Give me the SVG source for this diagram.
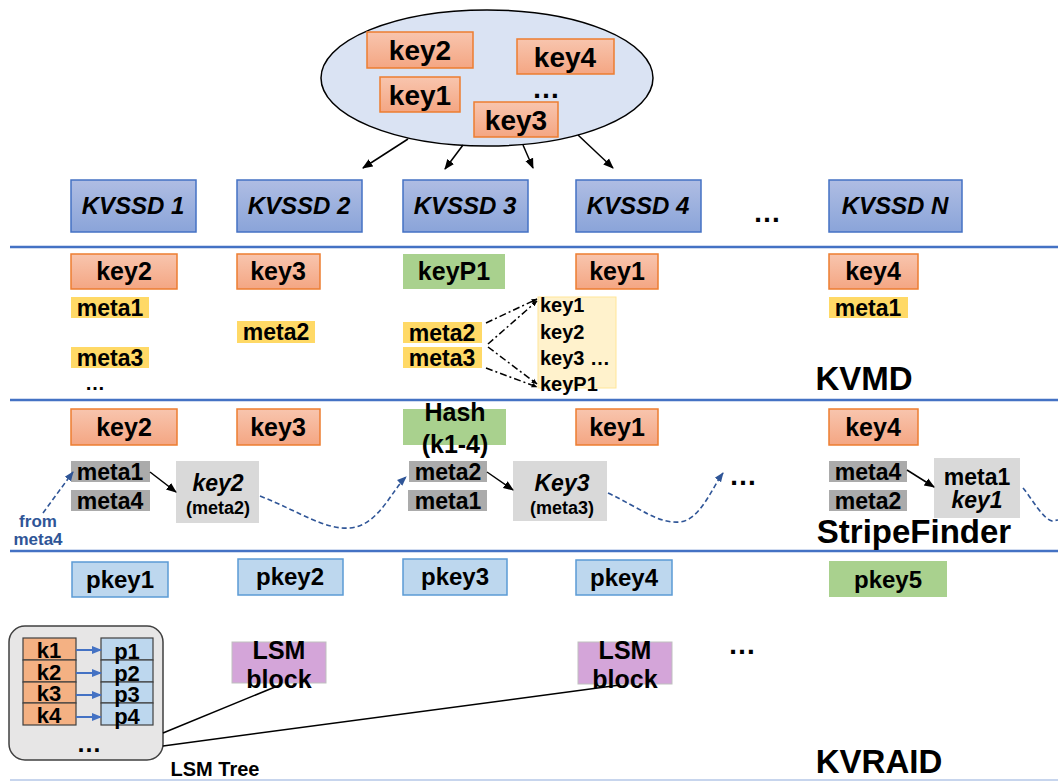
<svg xmlns="http://www.w3.org/2000/svg" width="1058" height="782" viewBox="0 0 1058 782">
  <defs>
    <linearGradient id="gKey" x1="0" y1="0" x2="0" y2="1">
      <stop offset="0" stop-color="#F8C5AE"/>
      <stop offset="1" stop-color="#F4A683"/>
    </linearGradient>
    <linearGradient id="gSsd" x1="0" y1="0" x2="0" y2="1">
      <stop offset="0" stop-color="#AFBDE3"/>
      <stop offset="1" stop-color="#8AA4D9"/>
    </linearGradient>
    <marker id="ah" viewBox="0 0 10 10" refX="9" refY="5" markerWidth="7" markerHeight="7" orient="auto">
      <path d="M0,1 L10,5 L0,9 z" fill="#000"/>
    </marker>
    <marker id="ahs" viewBox="0 0 10 10" refX="9" refY="5" markerWidth="4" markerHeight="4" orient="auto">
      <path d="M0,1 L10,5 L0,9 z" fill="#000"/>
    </marker>
    <marker id="ahb" viewBox="0 0 10 10" refX="9" refY="5" markerWidth="6" markerHeight="6" orient="auto">
      <path d="M0,1 L10,5 L0,9 z" fill="#2F5597"/>
    </marker>
    <marker id="ahl" viewBox="0 0 10 10" refX="9" refY="5" markerWidth="5" markerHeight="5" orient="auto">
      <path d="M0,1 L10,5 L0,9 z" fill="#4472C4"/>
    </marker>
  </defs>
  <style>
    text { font-family: "Liberation Sans", Arial, sans-serif; font-weight: bold; fill: #000; text-anchor: middle; }
    .key { fill: url(#gKey); stroke: #ED7D31; stroke-width: 1.5; }
    .green { fill: #A9D18E; stroke: none; }
    .ssd { fill: url(#gSsd); stroke: #4472C4; stroke-width: 1.5; }
    .meta { fill: #FFD966; stroke: none; }
    .gmeta { fill: #ABABAB; stroke: none; }
    .lbox { fill: #D9D9D9; stroke: none; }
    .pkey { fill: #BDD7EE; stroke: #5B9BD5; stroke-width: 1.5; }
    .lsm { fill: #D4A5D9; stroke: #BFBFBF; stroke-width: 1; }
    .sep { stroke: #4472C4; stroke-width: 2.5; }
    .t28 { font-size: 28px; }
    .t25 { font-size: 25px; }
    .t24 { font-size: 24px; }
    .t23 { font-size: 23px; }
    .t22 { font-size: 22px; }
    .t20 { font-size: 20px; }
    .ssdt { font-size: 24px; font-style: italic; }
    .big { font-size: 33px; }
    .conn { stroke: #000; stroke-width: 1.5; fill: none; }
    .dash { stroke: #2F5597; stroke-width: 1.6; fill: none; stroke-dasharray: 5 3; }
    .dd { stroke: #000; stroke-width: 1.5; fill: none; stroke-dasharray: 7 3 2 3; }
  </style>

  <!-- layer separators -->
  <g id="separators">
    <line class="sep" x1="10" y1="247" x2="1058" y2="247"/>
    <line class="sep" x1="10" y1="400" x2="1058" y2="400" stroke="#6B8FD0"/>
    <line class="sep" x1="10" y1="551" x2="1058" y2="551"/>
    <line x1="10" y1="780" x2="1058" y2="780" stroke="#B4C7E7" stroke-width="1.5"/>
  </g>

  <!-- incoming key set -->
  <g id="keyset">
    <ellipse cx="487" cy="78" rx="166" ry="68" fill="#DAE3F3" stroke="#000" stroke-width="1.5"/>
    <rect class="key" x="367" y="32" width="106" height="36"/>
    <text class="t28" x="420" y="60">key2</text>
    <rect class="key" x="517" y="39" width="97" height="35"/>
    <text class="t28" x="565" y="67">key4</text>
    <rect class="key" x="380" y="77" width="80" height="35"/>
    <text class="t28" x="420" y="105">key1</text>
    <rect class="key" x="474" y="102" width="84" height="35"/>
    <text class="t28" x="516" y="130">key3</text>
    <text class="t28" x="546" y="98">…</text>
  </g>

  <!-- devices -->
  <g id="kvssd1"><rect class="ssd" x="71" y="180" width="125" height="52"/><text class="ssdt" x="133" y="214">KVSSD 1</text></g>
  <g id="kvssd2"><rect class="ssd" x="237" y="180" width="125" height="52"/><text class="ssdt" x="299" y="214">KVSSD 2</text></g>
  <g id="kvssd3"><rect class="ssd" x="403" y="180" width="125" height="52"/><text class="ssdt" x="465" y="214">KVSSD 3</text></g>
  <g id="kvssd4"><rect class="ssd" x="576" y="180" width="125" height="52"/><text class="ssdt" x="638" y="214">KVSSD 4</text></g>
  <g id="kvssdn"><rect class="ssd" x="829" y="180" width="133" height="52"/><text class="ssdt" x="895" y="214">KVSSD N</text></g>
  <text class="t28" x="767" y="222">…</text>

  <!-- KVMD layer -->
  <g id="kvmd-col1">
    <rect class="key" x="71" y="254" width="106" height="35"/><text class="t25" x="124" y="280">key2</text>
    <rect class="meta" x="71" y="297" width="78" height="21"/><text class="t23" x="110" y="316">meta1</text>
    <rect class="meta" x="71" y="347" width="78" height="21"/><text class="t23" x="110" y="366">meta3</text>
    <text class="t20" x="95" y="390">…</text>
  </g>
  <g id="kvmd-col2">
    <rect class="key" x="237" y="254" width="83" height="35"/><text class="t25" x="278" y="280">key3</text>
    <rect class="meta" x="237" y="321" width="78" height="22"/><text class="t23" x="276" y="340">meta2</text>
  </g>
  <g id="kvmd-col3">
    <rect class="green" x="403" y="254" width="102" height="35"/><text class="t25" x="454" y="280">keyP1</text>
    <rect class="meta" x="403" y="322" width="79" height="21"/><text class="t23" x="442" y="341">meta2</text>
    <rect class="meta" x="403" y="347" width="79" height="21"/><text class="t23" x="442" y="366">meta3</text>
  </g>
  <g id="keylist">
    <rect x="538" y="297" width="78" height="91" fill="#FFF2CC" stroke="#FFE699" stroke-width="1"/>
    <text class="t20" x="540" y="312" style="text-anchor:start">key1</text>
    <text class="t20" x="540" y="339" style="text-anchor:start">key2</text>
    <text class="t20" x="540" y="365" style="text-anchor:start">key3 …</text>
    <text class="t20" x="540" y="391" style="text-anchor:start">keyP1</text>
  </g>
  <g id="kvmd-col4">
    <rect class="key" x="576" y="254" width="82" height="35"/><text class="t25" x="617" y="280">key1</text>
  </g>
  <g id="kvmd-coln">
    <rect class="key" x="829" y="254" width="89" height="35"/><text class="t25" x="873" y="280">key4</text>
    <rect class="meta" x="829" y="297" width="79" height="21"/><text class="t23" x="868" y="316">meta1</text>
  </g>
  <text class="big" x="864" y="390">KVMD</text>

  <!-- StripeFinder layer -->
  <g id="sf-col1">
    <rect class="key" x="71" y="409" width="106" height="36"/><text class="t25" x="124" y="436">key2</text>
    <rect class="gmeta" x="71" y="461" width="79" height="21"/><text class="t23" x="110" y="480">meta1</text>
    <rect class="gmeta" x="71" y="490" width="79" height="21"/><text class="t23" x="110" y="509">meta4</text>
    <rect class="lbox" x="176" y="461" width="83" height="62"/>
    <text class="t23" x="218" y="491" font-style="italic">key2</text>
    <text x="218" y="514" style="font-size:18px">(meta2)</text>
  </g>
  <g id="sf-col2">
    <rect class="key" x="237" y="409" width="83" height="36"/><text class="t25" x="278" y="436">key3</text>
  </g>
  <g id="sf-col3">
    <rect class="green" x="403" y="409" width="103" height="36"/>
    <text class="t25" x="455" y="421">Hash</text>
    <text class="t25" x="455" y="453">(k1-4)</text>
    <rect class="gmeta" x="409" y="461" width="78" height="21"/><text class="t23" x="448" y="480">meta2</text>
    <rect class="gmeta" x="408" y="490" width="79" height="21"/><text class="t23" x="448" y="509">meta1</text>
    <rect class="lbox" x="513" y="461" width="94" height="60"/>
    <text class="t23" x="562" y="491" font-style="italic">Key3</text>
    <text x="562" y="514" style="font-size:18px">(meta3)</text>
  </g>
  <g id="sf-col4">
    <rect class="key" x="576" y="409" width="82" height="36"/><text class="t25" x="617" y="436">key1</text>
  </g>
  <g id="sf-coln">
    <rect class="key" x="829" y="409" width="89" height="36"/><text class="t25" x="873" y="436">key4</text>
    <rect class="gmeta" x="829" y="461" width="78" height="21"/><text class="t23" x="868" y="480">meta4</text>
    <rect class="gmeta" x="829" y="490" width="78" height="21"/><text class="t23" x="868" y="509">meta2</text>
    <rect class="lbox" x="934" y="458" width="86" height="60"/>
    <text class="t23" x="977" y="485">meta1</text>
    <text class="t23" x="977" y="508" font-style="italic">key1</text>
  </g>
  <text class="t28" x="743" y="485">…</text>
  <text x="38" y="527" style="font-size:17px;fill:#2F5597">from</text>
  <text x="38" y="545" style="font-size:17px;fill:#2F5597">meta4</text>
  <text class="big" x="914" y="543">StripeFinder</text>

  <!-- KVRAID layer -->
  <g id="pkey1"><rect class="pkey" x="72" y="562" width="96" height="35"/><text class="t24" x="120" y="588">pkey1</text></g>
  <g id="pkey2"><rect class="pkey" x="238" y="559" width="105" height="36"/><text class="t24" x="290" y="585">pkey2</text></g>
  <g id="pkey3"><rect class="pkey" x="403" y="559" width="104" height="36"/><text class="t24" x="455" y="585">pkey3</text></g>
  <g id="pkey4"><rect class="pkey" x="576" y="560" width="96" height="35"/><text class="t24" x="624" y="586">pkey4</text></g>
  <g id="pkey5"><rect class="green" x="829" y="561" width="118" height="36"/><text class="t24" x="888" y="588">pkey5</text></g>

  <g id="lsm-block1">
    <rect class="lsm" x="232" y="642" width="94" height="41"/>
    <text class="t25" x="279" y="659">LSM</text>
    <text class="t25" x="279" y="688">block</text>
  </g>
  <g id="lsm-block2">
    <rect class="lsm" x="578" y="642" width="94" height="42"/>
    <text class="t25" x="625" y="659">LSM</text>
    <text class="t25" x="625" y="688">block</text>
  </g>
  <text class="t28" x="742" y="654">…</text>

  <g id="lsm-tree">
    <rect x="9" y="626" width="154" height="134" rx="16" fill="#E7E6E6" stroke="#404040" stroke-width="1.5"/>
    <g fill="#F4B183" stroke="#404040" stroke-width="1.2">
      <rect x="23" y="638" width="53" height="22"/>
      <rect x="23" y="660" width="53" height="22"/>
      <rect x="23" y="682" width="53" height="21"/>
      <rect x="23" y="703" width="53" height="22"/>
    </g>
    <g fill="#BDD7EE" stroke="#404040" stroke-width="1.2">
      <rect x="101" y="638" width="52" height="22"/>
      <rect x="101" y="660" width="52" height="22"/>
      <rect x="101" y="682" width="52" height="21"/>
      <rect x="101" y="703" width="52" height="22"/>
    </g>
    <text class="t22" x="49" y="658">k1</text>
    <text class="t22" x="49" y="680">k2</text>
    <text class="t22" x="49" y="701">k3</text>
    <text class="t22" x="49" y="723">k4</text>
    <text class="t22" x="127" y="659">p1</text>
    <text class="t22" x="127" y="681">p2</text>
    <text class="t22" x="127" y="702">p3</text>
    <text class="t22" x="127" y="724">p4</text>
    <g stroke="#4472C4" stroke-width="2" marker-end="url(#ahl)">
      <line x1="76" y1="650" x2="101" y2="650"/>
      <line x1="76" y1="673" x2="101" y2="673"/>
      <line x1="76" y1="695" x2="101" y2="695"/>
      <line x1="76" y1="717" x2="101" y2="717"/>
    </g>
    <text class="t25" x="89" y="752">…</text>
  </g>
  <text x="215" y="776" style="font-size:20px">LSM Tree</text>
  <text class="big" x="879" y="773">KVRAID</text>

  <!-- connectors -->
  <g id="connectors">
    <line class="conn" x1="408" y1="139" x2="363" y2="168" marker-end="url(#ah)"/>
    <line class="conn" x1="463" y1="145" x2="445" y2="169" marker-end="url(#ah)"/>
    <line class="conn" x1="523" y1="145" x2="533" y2="168" marker-end="url(#ah)"/>
    <line class="conn" x1="578" y1="135" x2="613" y2="168" marker-end="url(#ah)"/>

    <line class="dd" x1="486" y1="323" x2="537" y2="299" marker-end="url(#ahs)"/>
    <line class="dd" x1="488" y1="344" x2="537" y2="301" marker-end="url(#ahs)"/>
    <line class="dd" x1="488" y1="347" x2="537" y2="384" marker-end="url(#ahs)"/>
    <line class="dd" x1="486" y1="368" x2="537" y2="387" marker-end="url(#ahs)"/>

    <line class="conn" x1="150" y1="472" x2="176" y2="492" marker-end="url(#ah)"/>
    <line class="conn" x1="487" y1="472" x2="513" y2="490" marker-end="url(#ah)"/>
    <line class="conn" x1="907" y1="470" x2="934" y2="487" marker-end="url(#ah)"/>

    <path class="dash" d="M43,513 L73,472" marker-end="url(#ahb)"/>
    <path class="dash" d="M260,496 C300,512 325,530 350,528 C378,526 392,490 406,477" marker-end="url(#ahb)"/>
    <path class="dash" d="M608,493 C640,508 658,524 680,522 C700,520 712,488 723,473" marker-end="url(#ahb)"/>
    <path class="dash" d="M1023,488 C1033,500 1042,518 1052,521 L1058,520"/>

    <line class="conn" x1="163" y1="733" x2="275" y2="687"/>
    <line class="conn" x1="163" y1="746" x2="620" y2="685"/>
  </g>
</svg>
